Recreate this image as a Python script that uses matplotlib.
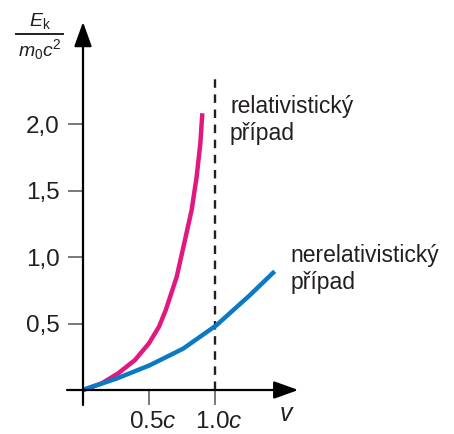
import matplotlib
matplotlib.use("Agg")
import matplotlib.pyplot as plt
from matplotlib.transforms import ScaledTranslation

plt.rcParams['font.family'] = ['Liberation Sans', 'DejaVu Sans']
plt.rcParams['mathtext.fontset'] = 'custom'
plt.rcParams['mathtext.rm'] = 'Liberation Sans'
plt.rcParams['mathtext.it'] = 'Liberation Sans:italic'

# data (v in units of c, Ek/(m0 c^2))
rel_v = [0, 0.040, 0.142, 0.267, 0.394, 0.500, 0.576, 0.627, 0.710, 0.767, 0.823, 0.861, 0.889, 0.904]
rel_e = [0, 0.013, 0.050, 0.126, 0.226, 0.352, 0.477, 0.602, 0.853, 1.105, 1.355, 1.606, 1.858, 2.084]

nrel_v = [0, 0.025, 0.252, 0.505, 0.758, 1.010, 1.263, 1.452]
nrel_e = [0, 0.010, 0.085, 0.186, 0.311, 0.487, 0.713, 0.894]

yticks = [0.5, 1.0, 1.5, 2.0]
ylabels = ['0,5', '1,0', '1,5', '2,0']
xticks = [0.5, 1.0]
xlabels = ['0.5$c$', '1.0$c$']

MAGENTA = '#E0187F'
BLUE = '#0A7AC4'
INK = '#231f20'

#======================================================================================
fig = plt.figure(figsize=(4.54, 4.34), dpi=100)
ax = fig.add_axes([0, 0, 1, 1])
ax.set_xlim(-83/132, (454-83)/132)
ax.set_ylim((390-434)/132.8, 390/132.8)

for s in ax.spines.values():
    s.set_visible(False)
ax.patch.set_visible(False)

# axes with arrows
arr = dict(arrowstyle='-|>,head_length=1.0,head_width=0.36', lw=1.6, color='k',
           shrinkA=0, shrinkB=0, mutation_scale=15)
ax.annotate('', xy=(0, 2.771), xytext=(0, -0.113), arrowprops=arr)
ax.annotate('', xy=(1.631, 0), xytext=(-0.121, 0), arrowprops=arr)

# ticks
ax.spines['left'].set_position(('data', 0))
ax.spines['bottom'].set_position(('data', 0))
ax.set_yticks(yticks, ylabels)
ax.set_xticks(xticks, xlabels)
ax.tick_params(axis='y', direction='out', length=11, width=1.1, color='#555555',
               labelsize=17.5, pad=6, labelcolor=INK)
ax.tick_params(axis='x', direction='out', length=11, width=1.1, color='#555555',
               labelsize=17.5, pad=4, labelcolor=INK)
for lbl in ax.get_xticklabels():
    lbl.set_transform(lbl.get_transform() + ScaledTranslation(3/72, 0, fig.dpi_scale_trans))

# dashed line at c
ax.plot([1.0, 1.0], [0, 2.342], color=INK, lw=1.7, ls=(0, (3.6, 2.8)))

# curves
ax.plot(rel_v, rel_e, color=MAGENTA, lw=3.2, solid_capstyle='butt', solid_joinstyle='round')
ax.plot(nrel_v, nrel_e, color=BLUE, lw=3.2, solid_capstyle='butt', solid_joinstyle='round')

# labels (y = baseline of the last line)
ax.text(1.114, 1.883, 'relativistický\npřípad', fontsize=16.5, va='baseline',
        ha='left', color=INK, linespacing=1.2)
ax.text(1.573, 0.763, 'nerelativistický\npřípad', fontsize=16.5, va='baseline',
        ha='left', color=INK, linespacing=1.2)
ax.text(1.546, -0.18, '$v$', fontsize=18, ha='center', va='center', color=INK)

# y label as fraction
ax.text(-0.326, 2.70, r'$E_{\mathrm{k}}$', fontsize=14, ha='center', va='bottom', color=INK)
ax.plot([-0.508, -0.152], [2.679, 2.679], color=INK, lw=1.4, clip_on=False)
ax.text(-0.326, 2.655, r'$m_0c^2$', fontsize=14, ha='center', va='top', color=INK)

fig.savefig('out.png', dpi=100)
